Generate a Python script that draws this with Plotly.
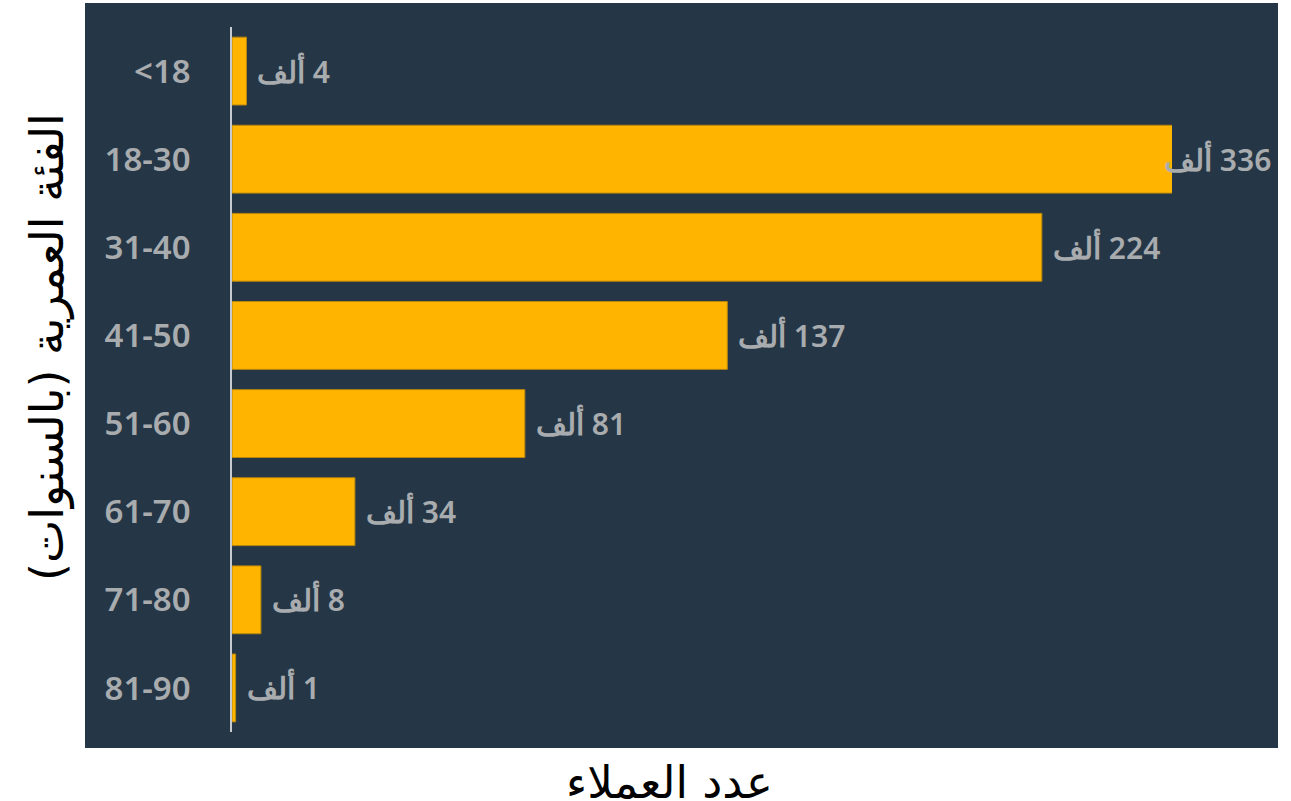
import plotly.graph_objects as go

categories = ["<18", "18-30", "31-40", "41-50", "51-60", "61-70", "71-80", "81-90"]
customers_k = [4, 336, 224, 137, 81, 34, 8, 1]
value_suffix = "ألف"
x_title = "عدد العملاء"
y_title = "الفئة العمرية (بالسنوات)"
x_max = 260

W, H = 1291, 801
L, R, T, B = 232, 119, 27, 69
pw, ph = W - L - R, H - T - B

BG = "#253746"
BAR = "#FFB500"
TXT = "#A9ACAF"
TITLE_FONT = "DejaVu Sans"

fig = go.Figure()
fig.add_trace(go.Bar(
    y=categories, x=customers_k, orientation="h",
    marker=dict(color=BAR, line=dict(color="#B8860B", width=1)),
    width=0.77, hoverinfo="skip", cliponaxis=True,
))

annotations = []
for c, v in zip(categories, customers_k):
    clipped = v > x_max
    annotations.append(dict(
        x=min(v, x_max), y=c, xref="x", yref="y", text=f"\u200f{v} {value_suffix}",
        showarrow=False, xanchor="left", yanchor="middle",
        xshift=-10 if clipped else 9,
        font=dict(family="Noto Sans", size=30, color=TXT, weight=600),
    ))

annotations.append(dict(
    x=(669 - L) / pw, y=-(782 - (T + ph)) / ph, xref="paper", yref="paper",
    text=x_title, showarrow=False, xanchor="center", yanchor="middle",
    font=dict(family=TITLE_FONT, size=45, color="#000000"),
))
annotations.append(dict(
    x=(47 - L) / pw, y=((T + ph) - 347) / ph, xref="paper", yref="paper",
    text=y_title, showarrow=False, textangle=-90, xanchor="center", yanchor="middle",
    font=dict(family=TITLE_FONT, size=46, color="#000000"),
))

fig.update_layout(
    width=W, height=H,
    margin=dict(l=L, r=R, t=T, b=B, pad=0),
    paper_bgcolor="white", plot_bgcolor=BG,
    showlegend=False,
    annotations=annotations,
    shapes=[dict(
        type="rect", xref="paper", yref="paper", layer="below",
        x0=(85 - L) / pw, x1=(1278 - L) / pw,
        y0=-(748 - (T + ph)) / ph, y1=1 + (T - 3) / ph,
        fillcolor=BG, line=dict(width=0),
    )],
    xaxis=dict(range=[0, x_max], showticklabels=False, showgrid=False,
               zeroline=False, showline=False, fixedrange=True),
    yaxis=dict(categoryorder="array", categoryarray=categories, autorange="reversed",
               showgrid=False, zeroline=False, showline=True,
               linecolor="#C8CCD0", linewidth=1.5,
               ticks="", ticklabelstandoff=33,
               tickfont=dict(family="Noto Sans", size=33, color=TXT, weight=600)),
)

fig.write_html("out.html", config={"displayModeBar": False},
               post_script="document.body.style.margin='0';")
